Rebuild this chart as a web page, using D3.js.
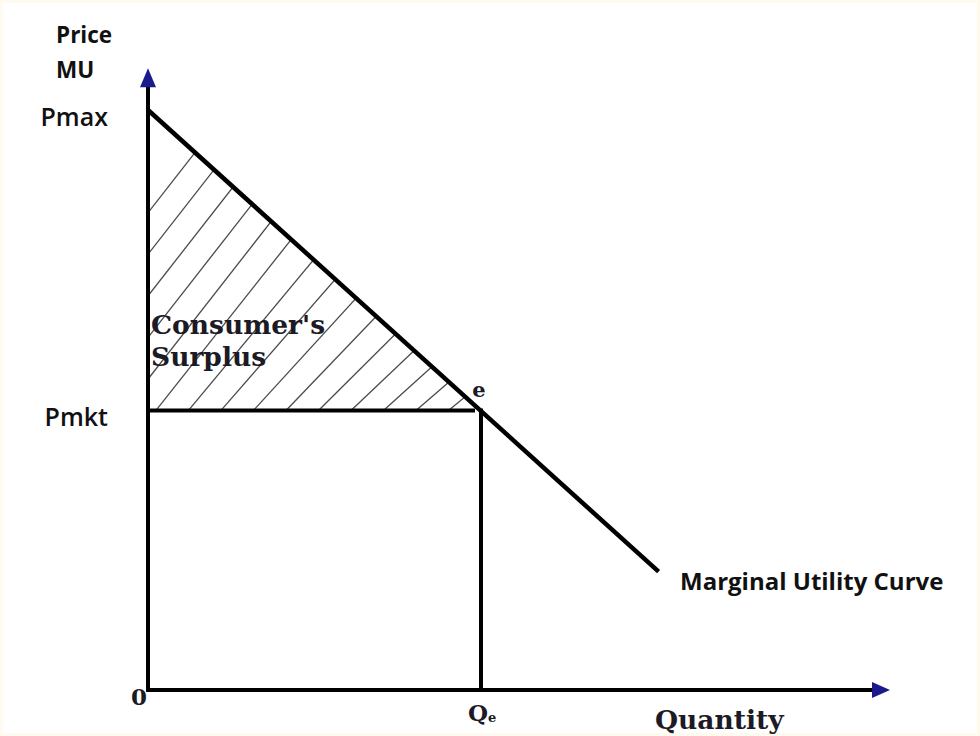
<!DOCTYPE html>
<html>
<head>
<meta charset="utf-8">
<script src="https://cdn.jsdelivr.net/npm/d3@7"></script>
<style>
  html, body { margin: 0; padding: 0; background: #fffaee; }
  svg { display: block; }
</style>
</head>
<body>
<svg id="chart" width="980" height="736"></svg>
<script>
// Consumer's surplus under a marginal utility (demand) curve
const quantityDomain = [0, 100];        // horizontal axis extent
const priceDomain = [0, 10];            // 0 .. Pmax
const priceAxisTop = 10.72;             // y axis runs a little above Pmax
const muCurve = [[0, 10], [69, 2.04]];  // marginal utility curve (quantity, price)
const equilibrium = { q: 45, p: 4.82 }; // point e
const priceLabels = [
  { text: "Pmax", p: 10 },
  { text: "Pmkt", p: 4.82 }
];
const axisTitles = { yTop: "Price", yBottom: "MU", x: "Quantity" };
const curveLabel = "Marginal Utility Curve";
const surplusLabel = ["Consumer's", "Surplus"];

const svg = d3.select("#chart");
const W = 980, H = 736;

// white sheet on a cream edge
svg.append("rect").attr("x", 3).attr("y", 3).attr("width", W - 6).attr("height", H - 6).attr("fill", "#ffffff");

const x = d3.scaleLinear().domain(quantityDomain).range([148, 888]);
const y = d3.scaleLinear().domain(priceDomain).range([690, 110]);

const ink = "#000000";
const navy = "#1b1a8c";
const serifInk = "#1c1a24";

// hatched consumer surplus region
const tri = [[0, muCurve[0][1]], [0, equilibrium.p], [equilibrium.q, equilibrium.p]];
svg.append("clipPath").attr("id", "cs-clip")
  .append("path")
  .attr("d", d3.line().x(d => x(d[0])).y(d => y(d[1]))(tri) + "Z");

const x0 = x(0), xe = x(equilibrium.q), yb = y(equilibrium.p);
const hatchStarts = d3.range(-5, 16).map(i => x0 + 8 + i * 32.5);
// slightly steeper toward the top-left, flatter toward e
const hatchAngle = d => {
  const t = Math.max(0, Math.min(1, (d - x0) / (xe - x0)));
  return (52 - 14 * t) * Math.PI / 180;
};
svg.append("g").attr("clip-path", "url(#cs-clip)")
  .selectAll("line").data(hatchStarts).join("line")
  .attr("x1", d => d)
  .attr("y1", yb)
  .attr("x2", d => d + 400 * Math.cos(hatchAngle(d)))
  .attr("y2", d => yb - 400 * Math.sin(hatchAngle(d)))
  .attr("stroke", "#4a4a4a").attr("stroke-width", 1.3);

// Pmkt horizontal and Qe vertical guides
svg.append("line")
  .attr("x1", x(0)).attr("y1", y(equilibrium.p))
  .attr("x2", x(equilibrium.q) - 6).attr("y2", y(equilibrium.p))
  .attr("stroke", ink).attr("stroke-width", 4);
svg.append("line")
  .attr("x1", x(equilibrium.q)).attr("y1", y(equilibrium.p) - 2)
  .attr("x2", x(equilibrium.q)).attr("y2", y(0))
  .attr("stroke", ink).attr("stroke-width", 4);

// marginal utility curve
svg.append("path")
  .attr("d", d3.line().x(d => x(d[0])).y(d => y(d[1]))(muCurve))
  .attr("fill", "none").attr("stroke", ink).attr("stroke-width", 4.5);

// axes with arrowheads
svg.append("line")
  .attr("x1", x(0)).attr("y1", y(0) + 2)
  .attr("x2", x(0)).attr("y2", y(priceAxisTop) + 16)
  .attr("stroke", ink).attr("stroke-width", 4);
svg.append("line")
  .attr("x1", x(0) - 2).attr("y1", y(0))
  .attr("x2", x(quantityDomain[1]) - 14).attr("y2", y(0))
  .attr("stroke", ink).attr("stroke-width", 4);

const yTip = y(priceAxisTop);
svg.append("path")
  .attr("d", `M${x(0)},${yTip} L${x(0) + 8},${yTip + 19} L${x(0) - 8},${yTip + 19} Z`)
  .attr("fill", navy);
const xTip = x(quantityDomain[1]) + 2;
svg.append("path")
  .attr("d", `M${xTip},${y(0)} L${xTip - 18},${y(0) - 8} L${xTip - 18},${y(0) + 8} Z`)
  .attr("fill", navy);

// sans labels
const sans = "'Open Sans', 'DejaVu Sans', sans-serif";
svg.append("text").attr("x", 56).attr("y", 43).text(axisTitles.yTop)
  .attr("font-family", sans).attr("font-weight", 700).attr("font-size", 22.5).attr("fill", "#111");
svg.append("text").attr("x", 56).attr("y", 78).text(axisTitles.yBottom)
  .attr("font-family", sans).attr("font-weight", 700).attr("font-size", 22.5).attr("fill", "#111");
svg.selectAll("text.plabel").data(priceLabels).join("text")
  .attr("class", "plabel")
  .attr("x", 108).attr("y", d => y(d.p) + 16)
  .attr("text-anchor", "end")
  .attr("font-family", sans).attr("font-weight", 600).attr("font-size", 25).attr("fill", "#111")
  .text(d => d.text);
svg.append("text").attr("x", 680).attr("y", 590).text(curveLabel)
  .attr("font-family", sans).attr("font-weight", 700).attr("font-size", 24).attr("fill", "#111");

// serif labels
const serif = "'DejaVu Serif', 'Liberation Serif', serif";
svg.selectAll("text.cs").data(surplusLabel).join("text")
  .attr("class", "cs")
  .attr("x", 151).attr("y", (d, i) => 334 + i * 32)
  .attr("font-family", serif).attr("font-weight", 700).attr("font-size", 26.5).attr("fill", serifInk)
  .text(d => d);
svg.append("text").attr("x", x(equilibrium.q) - 2).attr("y", y(equilibrium.p) - 13).text("e")
  .attr("text-anchor", "middle")
  .attr("font-family", serif).attr("font-weight", 700).attr("font-size", 21).attr("fill", serifInk);
svg.append("text").attr("x", x(0) - 1).attr("y", y(0) + 15).text("0")
  .attr("text-anchor", "end")
  .attr("font-family", serif).attr("font-weight", 700).attr("font-size", 23).attr("fill", serifInk);
const qe = svg.append("text").attr("x", x(equilibrium.q) - 13).attr("y", y(0) + 31)
  .attr("font-family", serif).attr("font-weight", 700).attr("font-size", 23).attr("fill", serifInk);
qe.append("tspan").text("Q");
qe.append("tspan").attr("font-size", 13).attr("dy", 1).text("e");
svg.append("text").attr("x", 655).attr("y", 729).text(axisTitles.x)
  .attr("font-family", serif).attr("font-weight", 700).attr("font-size", 26.5).attr("fill", serifInk);
</script>
</body>
</html>
